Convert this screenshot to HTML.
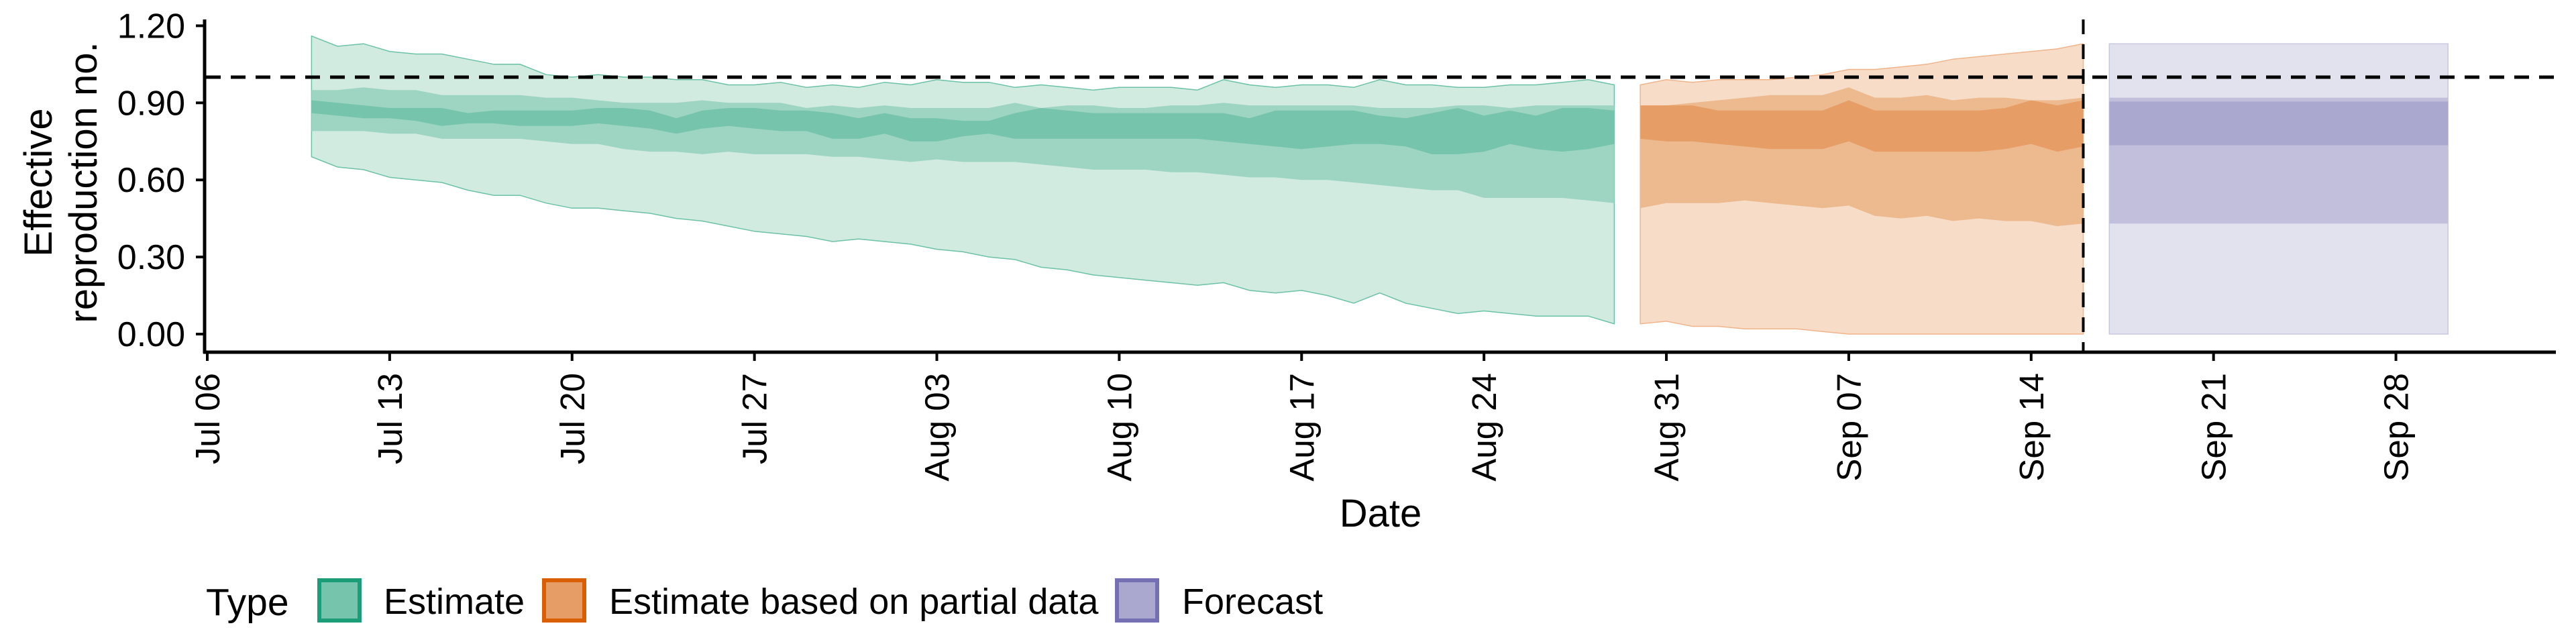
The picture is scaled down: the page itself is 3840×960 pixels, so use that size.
<!DOCTYPE html>
<html><head><meta charset="utf-8">
<style>
html,body{margin:0;padding:0;background:#fff;}
svg{display:block;font-family:"Liberation Sans",Arial,sans-serif;}
</style></head>
<body>
<svg id="chart" width="3840" height="960" viewBox="0 0 3840 960" xmlns="http://www.w3.org/2000/svg">
<g id="bands"></g>
<g id="axes"></g>
<g id="legend">
  <text x="307" y="917" font-size="57">Type</text>
  <rect x="476" y="865" width="60" height="60" fill="#76c4ab" stroke="#1b9e77" stroke-width="6"/>
  <text x="572" y="915" font-size="54">Estimate</text>
  <rect x="811" y="865" width="60" height="60" fill="#e69e66" stroke="#d95f02" stroke-width="6"/>
  <text x="908" y="915" font-size="54">Estimate based on partial data</text>
  <rect x="1665" y="865" width="60" height="60" fill="#aaa8cf" stroke="#7570b3" stroke-width="6"/>
  <text x="1762" y="915" font-size="54">Forecast</text>
</g>
</svg>
<script>
// Estimate: Jul 10 .. Aug 29 (day offset from Jul 06 = 4)
const estStart = 4;
const estHi90 = [1.16,1.12,1.13,1.10,1.09,1.09,1.07,1.05,1.05,1.01,1.00,1.01,1.00,1.00,0.99,0.99,0.97,0.97,0.98,0.96,0.97,0.96,0.98,0.97,0.99,0.98,0.98,0.96,0.97,0.96,0.95,0.96,0.96,0.96,0.95,0.99,0.97,0.96,0.97,0.97,0.96,0.99,0.97,0.97,0.96,0.96,0.97,0.97,0.98,0.99,0.97];
const estHi50 = [0.95,0.95,0.96,0.95,0.95,0.93,0.93,0.93,0.93,0.92,0.92,0.91,0.90,0.90,0.90,0.91,0.90,0.90,0.90,0.88,0.89,0.88,0.89,0.88,0.88,0.88,0.88,0.90,0.88,0.89,0.89,0.88,0.88,0.89,0.89,0.90,0.89,0.89,0.89,0.89,0.89,0.88,0.88,0.88,0.89,0.89,0.88,0.89,0.89,0.89,0.89];
const estHi20 = [0.91,0.90,0.89,0.88,0.88,0.88,0.86,0.87,0.87,0.87,0.87,0.88,0.88,0.87,0.84,0.87,0.88,0.88,0.87,0.87,0.86,0.84,0.86,0.84,0.84,0.83,0.83,0.86,0.88,0.87,0.86,0.86,0.86,0.86,0.86,0.86,0.84,0.87,0.87,0.87,0.87,0.85,0.84,0.86,0.88,0.85,0.87,0.85,0.88,0.88,0.87];
const estLo20 = [0.86,0.85,0.84,0.84,0.83,0.81,0.82,0.82,0.81,0.81,0.81,0.82,0.81,0.80,0.78,0.80,0.81,0.80,0.79,0.79,0.76,0.76,0.78,0.75,0.75,0.77,0.78,0.76,0.76,0.76,0.76,0.76,0.76,0.76,0.76,0.75,0.74,0.73,0.72,0.73,0.74,0.74,0.73,0.70,0.70,0.71,0.74,0.72,0.71,0.72,0.74];
const estLo50 = [0.79,0.79,0.79,0.78,0.78,0.76,0.76,0.76,0.76,0.75,0.74,0.74,0.72,0.71,0.71,0.70,0.71,0.70,0.70,0.70,0.69,0.69,0.68,0.67,0.68,0.67,0.67,0.67,0.66,0.65,0.64,0.64,0.64,0.63,0.63,0.62,0.61,0.61,0.60,0.60,0.59,0.58,0.57,0.56,0.56,0.53,0.53,0.53,0.53,0.52,0.51];
const estLo90 = [0.69,0.65,0.64,0.61,0.60,0.59,0.56,0.54,0.54,0.51,0.49,0.49,0.48,0.47,0.45,0.44,0.42,0.40,0.39,0.38,0.36,0.37,0.36,0.35,0.33,0.32,0.30,0.29,0.26,0.25,0.23,0.22,0.21,0.20,0.19,0.20,0.17,0.16,0.17,0.15,0.12,0.16,0.12,0.10,0.08,0.09,0.08,0.07,0.07,0.07,0.04];
// Partial data: Aug 30 .. Sep 16
const parStart = 55;
const parHi90 = [0.97,0.99,0.98,0.99,0.99,0.99,1.00,1.01,1.03,1.03,1.04,1.05,1.07,1.08,1.09,1.10,1.11,1.13];
const parHi50 = [0.89,0.89,0.90,0.91,0.92,0.93,0.93,0.93,0.96,0.92,0.92,0.93,0.91,0.92,0.92,0.91,0.91,0.92];
const parHi20 = [0.89,0.89,0.89,0.87,0.87,0.87,0.87,0.87,0.91,0.87,0.87,0.87,0.87,0.87,0.88,0.91,0.89,0.91];
const parLo20 = [0.76,0.75,0.75,0.74,0.73,0.72,0.72,0.72,0.75,0.71,0.71,0.71,0.71,0.71,0.72,0.74,0.71,0.73];
const parLo50 = [0.49,0.51,0.51,0.51,0.52,0.51,0.50,0.49,0.50,0.46,0.45,0.46,0.44,0.45,0.44,0.44,0.42,0.43];
const parLo90 = [0.04,0.05,0.03,0.03,0.02,0.02,0.02,0.01,0,0,0,0,0,0,0,0,0,0];
// Forecast: Sep 17 .. Sep 30
const fcStart = 73;
const fcHi90 = [1.13,1.13,1.13,1.13,1.13,1.13,1.13,1.13,1.13,1.13,1.13,1.13,1.13,1.13];
const fcHi50 = [0.92,0.92,0.92,0.92,0.92,0.92,0.92,0.92,0.92,0.92,0.92,0.92,0.92,0.92];
const fcHi20 = [0.905,0.905,0.905,0.905,0.905,0.905,0.905,0.905,0.905,0.905,0.905,0.905,0.905,0.905];
const fcLo20 = [0.735,0.735,0.735,0.735,0.735,0.735,0.735,0.735,0.735,0.735,0.735,0.735,0.735,0.735];
const fcLo50 = [0.43,0.43,0.43,0.43,0.43,0.43,0.43,0.43,0.43,0.43,0.43,0.43,0.43,0.43];
const fcLo90 = [0,0,0,0,0,0,0,0,0,0,0,0,0,0];
const yTicks = [0, 0.3, 0.6, 0.9, 1.2];
const yTickLabels = ["0.00","0.30","0.60","0.90","1.20"];
const xTickDays = [0,7,14,21,28,35,42,49,56,63,70,77,84];
const xTickLabels = ["Jul 06","Jul 13","Jul 20","Jul 27","Aug 03","Aug 10","Aug 17","Aug 24","Aug 31","Sep 07","Sep 14","Sep 21","Sep 28"];
const refLine = 1.0;
const dataCutDay = 72;

const NS = "http://www.w3.org/2000/svg";
const X0 = 309, DX = 38.84;
function xs(d){ return X0 + d*DX; }
function ys(v){ return 498 - v*383; }
function mk(tag, attrs, parent){
  const e = document.createElementNS(NS, tag);
  for (const k in attrs) e.setAttribute(k, attrs[k]);
  parent.appendChild(e); return e;
}
const bands = document.getElementById('bands');
const axes = document.getElementById('axes');

function band(start, lo, hi, fill, stroke, name){
  let pts = [];
  for (let i=0;i<hi.length;i++) pts.push(xs(start+i).toFixed(1)+","+ys(hi[i]).toFixed(1));
  for (let i=lo.length-1;i>=0;i--) pts.push(xs(start+i).toFixed(1)+","+ys(lo[i]).toFixed(1));
  const p = mk('polygon', {points: pts.join(' '), fill: fill, stroke: stroke || 'none', 'stroke-width': stroke ? 1.5 : 0}, bands);
  
  
}
band(estStart, estLo90, estHi90, '#d1ebe1', '#6cc2a6', 'estimate-band-90');
band(estStart, estLo50, estHi50, '#9dd4c2', null, 'estimate-band-50');
band(estStart, estLo20, estHi20, '#76c4ab', null, 'estimate-band-20');
band(parStart, parLo90, parHi90, '#f7dcc8', '#f0b48a', 'partial-band-90');
band(parStart, parLo50, parHi50, '#edb98e', null, 'partial-band-50');
band(parStart, parLo20, parHi20, '#e69e66', null, 'partial-band-20');
band(fcStart, fcLo90, fcHi90, '#e2e2ef', '#c9c7e2', 'forecast-band-90');
band(fcStart, fcLo50, fcHi50, '#c2bfdc', null, 'forecast-band-50');
band(fcStart, fcLo20, fcHi20, '#aaa8cf', null, 'forecast-band-20');

let l = mk('line', {x1:307, x2:3810, y1:ys(refLine), y2:ys(refLine), stroke:'#000', 'stroke-width':5, 'stroke-dasharray':'22,15'}, axes);


l = mk('line', {x1:xs(dataCutDay), x2:xs(dataCutDay), y1:29, y2:525, stroke:'#000', 'stroke-width':4, 'stroke-dasharray':'22,15'}, axes);



l = mk('line', {x1:305, x2:305, y1:29, y2:527, stroke:'#000', 'stroke-width':5}, axes);


l = mk('line', {x1:303, x2:3810, y1:525, y2:525, stroke:'#000', 'stroke-width':5}, axes);



yTicks.forEach((v,i)=>{
  const t = mk('line', {x1:292, x2:305, y1:ys(v), y2:ys(v), stroke:'#000', 'stroke-width':4}, axes);
  
  
  const tx = mk('text', {x:276, y:ys(v)+18, 'font-size':52, 'text-anchor':'end'}, axes);
  tx.textContent = yTickLabels[i];
  
  
});
xTickDays.forEach((d,i)=>{
  const x = xs(d);
  const t = mk('line', {x1:x, x2:x, y1:525, y2:538, stroke:'#000', 'stroke-width':4}, axes);
  
  
  const tx = mk('text', {x:0, y:0, 'font-size':51, 'text-anchor':'end', transform:'translate('+(x+18)+',556) rotate(-90)'}, axes);
  tx.textContent = xTickLabels[i];
  
  
});
let tt = mk('text', {x:2058, y:785, 'font-size':58, 'text-anchor':'middle'}, axes);
tt.textContent = 'Date';


tt = mk('text', {x:0, y:0, 'font-size':58, 'text-anchor':'middle', transform:'translate(77,272) rotate(-90)'}, axes);
tt.textContent = 'Effective';


tt = mk('text', {x:0, y:0, 'font-size':58, 'text-anchor':'middle', transform:'translate(144,272) rotate(-90)'}, axes);
tt.textContent = 'reproduction no.';


</script>
</body></html>
